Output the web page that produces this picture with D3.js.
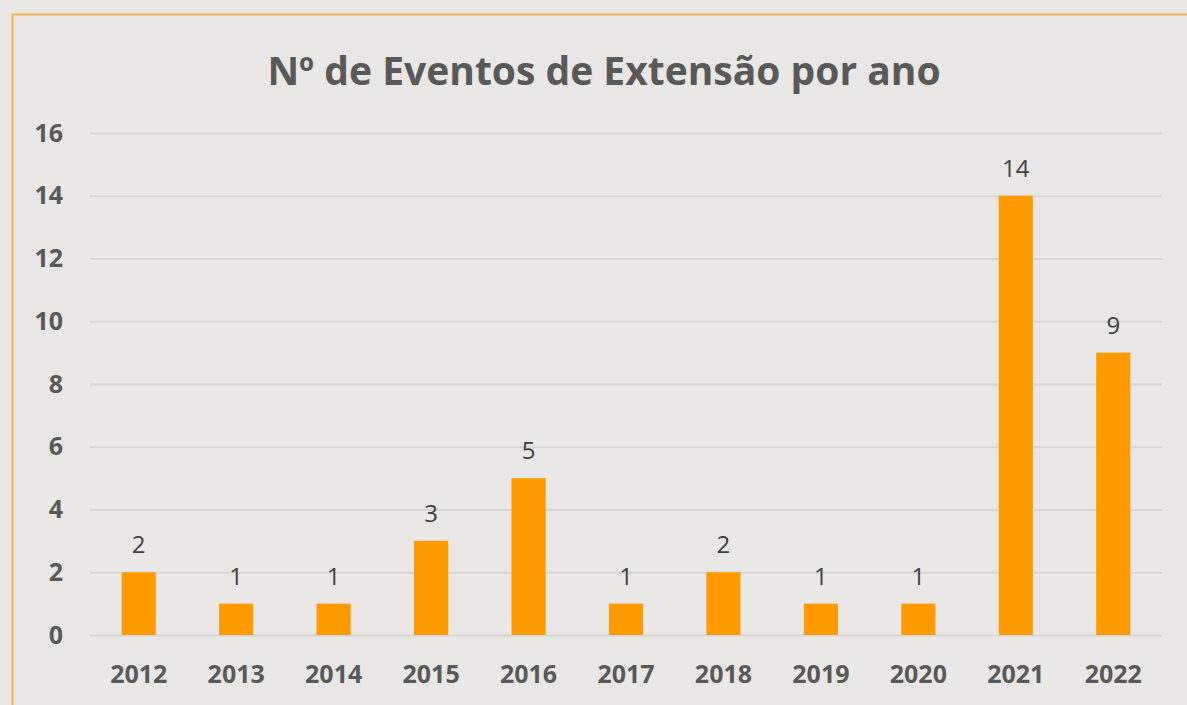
<!DOCTYPE html>
<html>
<head>
<meta charset="utf-8">
<script src="https://cdn.jsdelivr.net/npm/d3@7"></script>
<style>
  body { margin: 0; background: #e9e8e6; }
  text { font-family: "Open Sans", sans-serif; }
</style>
</head>
<body>
<div id="chart"></div>
<script>
const years = ['2012', '2013', '2014', '2015', '2016', '2017', '2018', '2019', '2020', '2021', '2022'];
const eventos = [2, 1, 1, 3, 5, 1, 2, 1, 1, 14, 9];
const yTicks = [0, 2, 4, 6, 8, 10, 12, 14, 16];

const width = 1187, height = 705;
const svg = d3.select('#chart').append('svg').attr('width', width).attr('height', height);

svg.append('rect')
  .attr('width', width).attr('height', height)
  .attr('fill', '#e9e8e6');

// moldura laranja
svg.append('rect')
  .attr('x', 12.5).attr('y', 14.5)
  .attr('width', width + 20).attr('height', height + 20)
  .attr('fill', 'none')
  .attr('stroke', '#f2b44a')
  .attr('stroke-width', 2);

svg.append('text')
  .attr('x', 604)
  .attr('y', 85)
  .attr('text-anchor', 'middle')
  .style('font-size', '39px')
  .style('font-weight', 'bold')
  .style('fill', '#595959')
  .text('Nº de Eventos de Extensão por ano');

const x = d3.scaleBand().domain(years).range([90, 1162]).paddingInner(0.65).paddingOuter(0.325);
const y = d3.scaleLinear().domain([0, 16]).range([635, 133]);

// grid
svg.append('g')
  .selectAll('line')
  .data(yTicks)
  .join('line')
  .attr('x1', 90).attr('x2', 1162)
  .attr('y1', d => y(d) + 0.5).attr('y2', d => y(d) + 0.5)
  .attr('stroke', '#d6d6d6')
  .attr('stroke-width', 2);

const yAxis = svg.append('g')
  .attr('transform', 'translate(63,0)')
  .call(d3.axisLeft(y).tickValues(yTicks).tickSize(0).tickPadding(0));
yAxis.select('.domain').remove();
yAxis.selectAll('text')
  .style('font-size', '25px')
  .style('font-weight', 'bold')
  .style('fill', '#595959')
  .style('font-family', '"Open Sans", sans-serif');

const xAxis = svg.append('g')
  .attr('transform', 'translate(0,665)')
  .call(d3.axisBottom(x).tickSize(0).tickPadding(0));
xAxis.select('.domain').remove();
xAxis.selectAll('text')
  .style('font-size', '25px')
  .style('font-weight', 'bold')
  .style('fill', '#595959')
  .style('font-family', '"Open Sans", sans-serif');

svg.selectAll('.bar')
  .data(eventos)
  .join('rect')
  .attr('class', 'bar')
  .attr('x', (d, i) => x(years[i]))
  .attr('y', d => y(d))
  .attr('width', x.bandwidth())
  .attr('height', d => y(0) - y(d))
  .attr('fill', '#ff9a00');

svg.selectAll('.label')
  .data(eventos)
  .join('text')
  .attr('class', 'label')
  .attr('x', (d, i) => x(years[i]) + x.bandwidth() / 2)
  .attr('y', d => y(d) - 19)
  .attr('text-anchor', 'middle')
  .style('font-size', '24px')
  .style('fill', '#404040')
  .text(d => d);
</script>
</body>
</html>
